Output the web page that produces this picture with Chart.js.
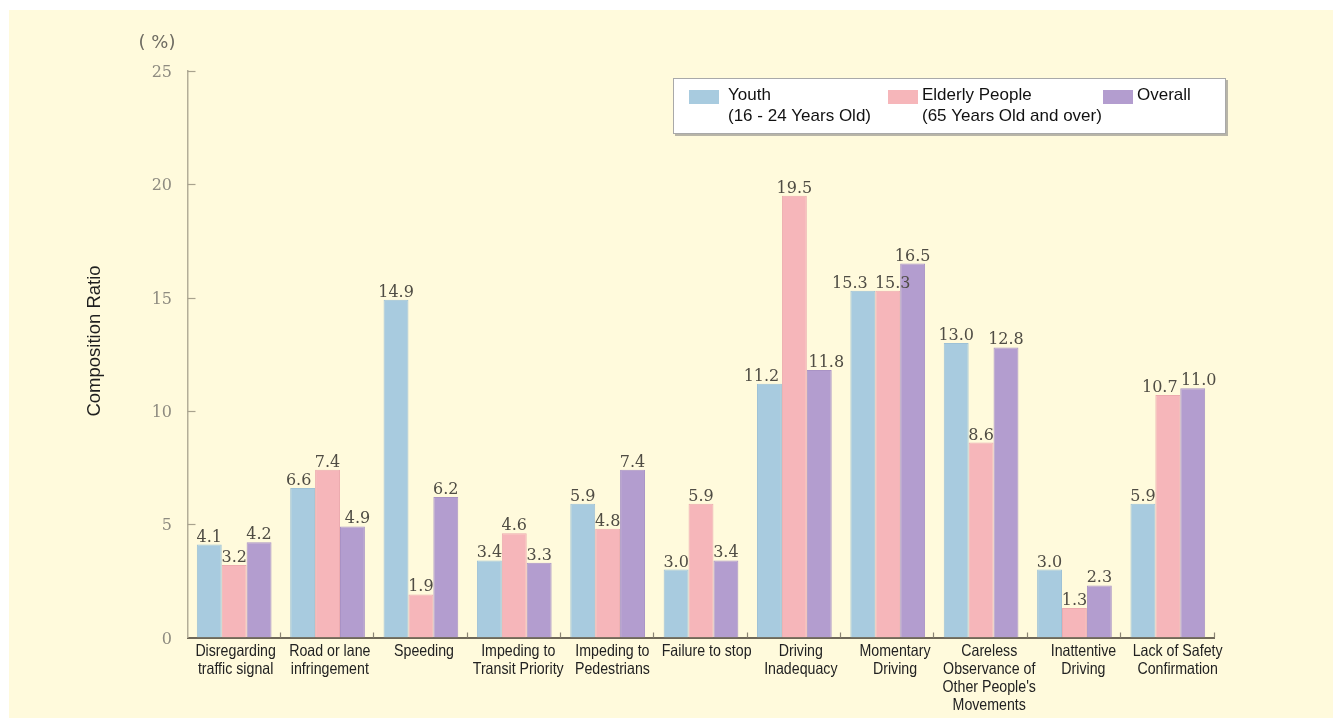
<!DOCTYPE html>
<html>
<head>
<meta charset="utf-8">
<script src="https://cdn.jsdelivr.net/npm/chart.js@4/dist/chart.umd.min.js"></script>
<style>
  html, body { margin: 0; padding: 0; background: #ffffff; }
  #wrap { position: absolute; left: 0; top: 0; width: 1333px; height: 719px; }
</style>
</head>
<body>
<div id="wrap"><canvas id="c" width="1333" height="719"></canvas></div>
<script>
// Categories of traffic violations (multi-line tick labels)
const categories = [
  ['Disregarding', 'traffic signal'],
  ['Road or lane', 'infringement'],
  ['Speeding'],
  ['Impeding to', 'Transit Priority'],
  ['Impeding to', 'Pedestrians'],
  ['Failure to stop'],
  ['Driving', 'Inadequacy'],
  ['Momentary', 'Driving'],
  ['Careless', 'Observance of', "Other People's", 'Movements'],
  ['Inattentive', 'Driving'],
  ['Lack of Safety', 'Confirmation']
];

// Composition ratio (%) per group
const youth   = [4.1, 6.6, 14.9, 3.4, 5.9, 3.0, 11.2, 15.3, 13.0, 3.0, 5.9];
const elderly = [3.2, 7.4, 1.9, 4.6, 4.8, 5.9, 19.5, 15.3, 8.6, 1.3, 10.7];
const overall = [4.2, 4.9, 6.2, 3.3, 7.4, 3.4, 11.8, 16.5, 12.8, 2.3, 11.0];

// Legend texts
const legendTexts = [
  ['Youth', '(16 - 24 Years Old)'],
  ['Elderly People', '(65 Years Old and over)'],
  ['Overall']
];

// Y axis ticks
const yTicks = [0, 5, 10, 15, 20, 25];

// Horizontal nudges (px) for value labels that would otherwise collide
const labelNudge = [
  { 1: -4, 6: -8, 7: -13 },
  { 7: 5, 10: -8 },
  { 1: 5, 6: 7, 10: 6 }
];

const CREAM = '#fffadc';
const COLORS = ['#a8cbdf', '#f6b6ba', '#b39dcf'];
const EDGES  = ['#9dc1d6', '#ecabaf', '#a993c5'];

const SANS = "'Liberation Sans', Arial, sans-serif";
const SERIF = "'DejaVu Serif', serif";

// category captions sit on a slightly wider pitch than the bar groups
const CAPTION_SPREAD = 1.009;

const decorPlugin = {
  id: 'decor',
  beforeDraw(chart) {
    const ctx = chart.ctx;
    ctx.save();
    ctx.fillStyle = '#ffffff';
    ctx.fillRect(0, 0, chart.width, chart.height);
    ctx.fillStyle = CREAM;
    ctx.fillRect(9, 10, chart.width - 9, chart.height - 11);
    ctx.restore();
  },
  afterDraw(chart) {
    const ctx = chart.ctx;
    const xs = chart.scales.x, ys = chart.scales.y;
    const area = chart.chartArea;
    ctx.save();

    // inner tick marks on the value axis
    ctx.strokeStyle = '#a8a28e';
    ctx.lineWidth = 1.2;
    yTicks.forEach(v => {
      if (v === 0) return;
      const py = Math.round(ys.getPixelForValue(v)) + 0.5;
      ctx.beginPath();
      ctx.moveTo(area.left, py);
      ctx.lineTo(area.left + 8, py);
      ctx.stroke();
    });

    // category separators on the category axis
    ctx.strokeStyle = '#8a8374';
    const catW = (area.right - area.left) / categories.length;
    for (let i = 1; i <= categories.length; i++) {
      const px = Math.round(area.left + catW * i) - 0.5;
      ctx.beginPath();
      ctx.moveTo(px, area.bottom);
      ctx.lineTo(px, area.bottom - 5);
      ctx.stroke();
    }

    // category labels (condensed)
    ctx.fillStyle = '#222222';
    ctx.font = '16.5px ' + SANS;
    ctx.textAlign = 'center';
    ctx.textBaseline = 'middle';
    categories.forEach((lines, i) => {
      const cx = area.left + (xs.getPixelForTick(i) - area.left) * CAPTION_SPREAD + 1;
      lines.forEach((line, k) => {
        ctx.save();
        ctx.translate(cx, area.bottom + 14 + k * 18);
        ctx.scale(0.86, 1);
        ctx.fillText(line, 0, 0);
        ctx.restore();
      });
    });

    // value labels
    ctx.font = '16px ' + SERIF;
    ctx.textAlign = 'center';
    ctx.textBaseline = 'alphabetic';
    ctx.fillStyle = '#4f4c44';
    chart.data.datasets.forEach((ds, di) => {
      const meta = chart.getDatasetMeta(di);
      meta.data.forEach((bar, j) => {
        const txt = ds.data[j].toFixed(1);
        const dx = labelNudge[di][j] || 0;
        ctx.fillText(txt, bar.x + dx, bar.y - 3);
      });
    });

    // unit label
    ctx.font = '18px ' + "'DejaVu Sans', sans-serif";
    ctx.fillStyle = '#6e6b62';
    ctx.textAlign = 'center';
    ctx.textBaseline = 'middle';
    ctx.fillText('( %)', 157, 43);

    // axis title
    ctx.save();
    ctx.translate(95, 341);
    ctx.rotate(-Math.PI / 2);
    ctx.font = '18.5px ' + SANS;
    ctx.fillStyle = '#1e1e1e';
    ctx.fillText('Composition Ratio', 0, 0);
    ctx.restore();

    // legend box
    const lx = 673, ly = 78, lw = 553, lh = 56;
    ctx.fillStyle = '#b8b5a8';
    ctx.fillRect(lx + 2, ly + 2, lw, lh);
    ctx.fillStyle = '#ffffff';
    ctx.fillRect(lx, ly, lw, lh);
    ctx.strokeStyle = '#a9a9a9';
    ctx.lineWidth = 1;
    ctx.strokeRect(lx + 0.5, ly + 0.5, lw - 1, lh - 1);

    const swX = [689, 888, 1103];
    const txX = [728, 922, 1137];
    ctx.font = '17px ' + SANS;
    ctx.textAlign = 'left';
    ctx.textBaseline = 'middle';
    chart.data.datasets.forEach((ds, di) => {
      ctx.fillStyle = COLORS[di];
      ctx.fillRect(swX[di], 90, 30, 14);
      ctx.fillStyle = '#111111';
      legendTexts[di].forEach((line, k) => {
        ctx.fillText(line, txX[di], 95 + k * 21);
      });
    });

    ctx.restore();
  }
};

const datasetLabels = ['Youth (16 - 24 Years Old)', 'Elderly People (65 Years Old and over)', 'Overall'];

new Chart(document.getElementById('c'), {
  type: 'bar',
  data: {
    labels: categories,
    datasets: [youth, elderly, overall].map((d, i) => ({
      label: datasetLabels[i],
      data: d,
      backgroundColor: COLORS[i],
      borderColor: EDGES[i],
      borderWidth: 1,
      categoryPercentage: 0.8,
      barPercentage: 1.0
    }))
  },
  options: {
    responsive: false,
    animation: false,
    devicePixelRatio: 1,
    layout: { padding: { left: 9, right: 118.5, top: 71, bottom: 0 } },
    plugins: {
      legend: { display: false },
      tooltip: { enabled: false },
      title: { display: false }
    },
    scales: {
      x: {
        grid: { display: false, drawTicks: false },
        border: { display: true, color: '#6f6859', width: 2 },
        ticks: { display: false },
        afterFit(scale) { scale.height = 81.5; }
      },
      y: {
        min: 0,
        max: 25,
        afterBuildTicks(scale) { scale.ticks = yTicks.map(v => ({ value: v })); },
        grid: { display: false, drawTicks: false },
        border: { display: true, color: '#b3ad98', width: 1.5 },
        ticks: {
          padding: 15.5,
          labelOffset: 2,
          color: '#8e8b80',
          font: { family: SERIF, size: 16 }
        },
        afterFit(scale) { scale.width = 178.5; }
      }
    }
  },
  plugins: [decorPlugin]
});
</script>
</body>
</html>
